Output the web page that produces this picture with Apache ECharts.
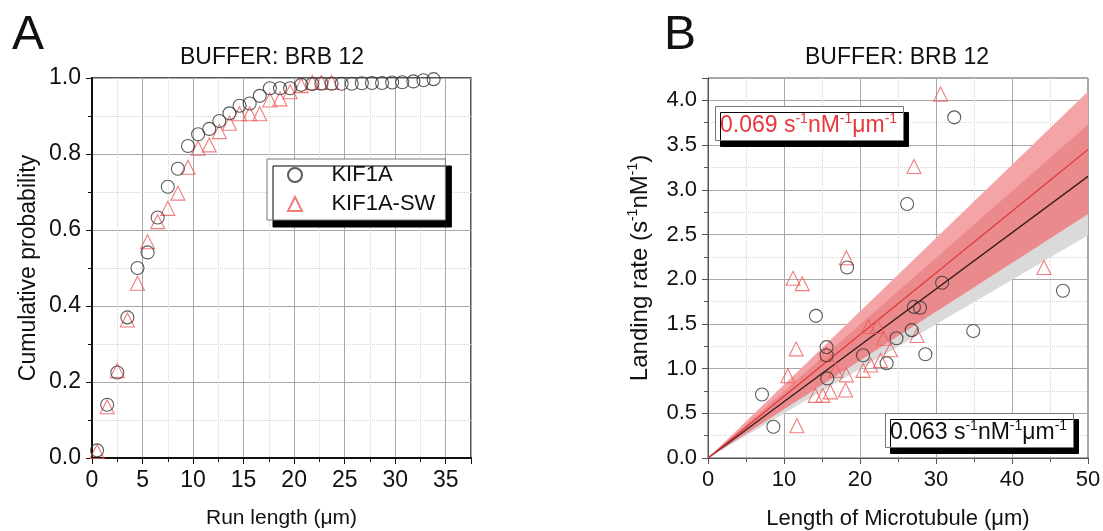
<!DOCTYPE html>
<html>
<head>
<meta charset="utf-8">
<script src="https://cdn.jsdelivr.net/npm/echarts@6/dist/echarts.min.js"></script>
<style>
  html, body { margin: 0; background: #fff; }
  #chart { width: 1103px; height: 531px; }
</style>
</head>
<body>
<div id="chart"></div>
<script>
// ---- panel A: cumulative run length ----
const runLengthBins = [0.5, 1.5, 2.5, 3.5, 4.5, 5.5, 6.5, 7.5, 8.5, 9.5, 10.5, 11.6, 12.6, 13.6, 14.6, 15.6, 16.6,
  17.6, 18.6, 19.6, 20.7, 21.8, 22.7, 23.7, 24.7, 25.7, 26.7, 27.7, 28.7, 29.7, 30.7, 31.8, 32.8, 33.8];
const kif1aCum = [0.02, 0.14, 0.225, 0.37, 0.50, 0.541, 0.633, 0.714, 0.761, 0.821, 0.852, 0.866, 0.887, 0.907,
  0.927, 0.933, 0.953, 0.973, 0.973, 0.973, 0.982, 0.984, 0.985, 0.985, 0.985, 0.985, 0.986, 0.987, 0.987,
  0.988, 0.989, 0.991, 0.994, 0.997];
const kif1aSwCum = [0.017, 0.135, 0.23, 0.363, 0.46, 0.569, 0.622, 0.657, 0.697, 0.765, 0.815, 0.824, 0.859,
  0.881, 0.906, 0.906, 0.906, 0.942, 0.945, 0.964, 0.98, 0.988, 0.988, 0.988];

// ---- panel B: landing rate vs microtubule length ----
const kif1aMtLength = [7.1, 8.6, 14.2, 15.6, 15.6, 15.7, 18.3, 20.4, 23.5, 24.8, 26.2, 26.8, 27.1, 27.9, 28.6, 30.8, 32.4, 34.9, 46.7];
const kif1aLanding  = [0.71, 0.35, 1.59, 1.24, 1.15, 0.89, 2.13, 1.15, 1.06, 1.34, 2.84, 1.43, 1.69, 1.68, 1.16, 1.96, 3.81, 1.42, 1.87];
const kif1aSwMtLength = [10.5, 11.2, 11.6, 11.7, 12.4, 14.1, 15.1, 15.6, 16.1, 16.8, 18.1, 18.2, 18.2, 20.4, 21.1, 21.4,
  22.3, 22.7, 23.1, 24.0, 27.1, 27.5, 30.6, 44.2];
const kif1aSwLanding  = [0.92, 2.01, 1.22, 0.36, 1.95, 0.70, 0.70, 1.16, 0.74, 0.98, 0.76, 0.93, 2.24, 0.98, 1.47, 1.04,
  1.47, 1.09, 1.34, 1.21, 3.26, 1.37, 4.07, 2.13];

// linear fits through origin (slope) and their confidence bands (low/high slope)
const fitX = [0, 50];
const kif1aSlope = 0.063;
const kif1aSwSlope = 0.069;
const kif1aBand = [0.0498, 0.0746];
const kif1aSwBand = [0.0546, 0.082];

const FONT = 'Liberation Sans';
const RED = '#ee5b5b';
const DARK = '#333';

const chart = echarts.init(document.getElementById('chart'));

const line = (slope) => fitX.map(x => [x, slope * x]);

const supRich = (color, size) => ({
  n: { fontSize: size, lineHeight: size + 4, color, fontFamily: FONT, fontWeight: 'normal' },
  s: { fontSize: Math.round(size * 0.6), lineHeight: Math.round(size * 0.6), verticalAlign: 'top', color, fontFamily: FONT, fontWeight: 'normal' }
});

function axisCommon(color, width, labelSize, nameSize) {
  return {
    type: 'value',
    axisLine: { show: true, onZero: false, lineStyle: { color, width } },
    axisTick: { show: true, length: 6, lineStyle: { color, width: 1 } },
    minorTick: { show: true, splitNumber: 2, length: 4, lineStyle: { color } },
    splitLine: { show: true, lineStyle: { color: '#a8a8a8', width: 1 } },
    minorSplitLine: { show: true, lineStyle: { color: '#d6d6d6', type: 'dotted' } },
    axisLabel: { fontSize: labelSize, color: '#111', fontFamily: FONT, margin: 11, showMaxLabel: false },
    nameLocation: 'middle',
    nameTextStyle: { fontSize: nameSize, color: '#111', fontFamily: FONT }
  };
}

const xA = Object.assign(axisCommon('#111', 2, 23, 21), {
  gridIndex: 0, min: 0, max: 37.5, interval: 5, name: 'Run length (μm)', nameGap: 50
});
const yA = Object.assign(axisCommon('#111', 2, 23, 23), {
  gridIndex: 0, min: 0, max: 1, interval: 0.2, name: 'Cumulative probability', nameGap: 52
});
yA.axisLabel = Object.assign({}, yA.axisLabel, { formatter: v => v.toFixed(1), showMaxLabel: true });

const xB = Object.assign(axisCommon('#555', 1, 22, 22), {
  gridIndex: 1, min: 0, max: 50, interval: 10, name: 'Length of Microtubule (μm)', nameGap: 50
});
xB.axisLabel = Object.assign({}, xB.axisLabel, { showMaxLabel: true });
const yB = Object.assign(axisCommon('#555', 1, 22, 24), {
  gridIndex: 1, min: 0, max: 4.25, interval: 0.5, nameGap: 54,
  name: '{n|Landing rate (s}{s|-1}{n|nM}{s|-1}{n|)}'
});
yB.nameTextStyle = Object.assign({}, yB.nameTextStyle, { rich: supRich('#111', 24) });
yB.axisLabel = Object.assign({}, yB.axisLabel, { formatter: v => v.toFixed(1) });

const hollow = (color) => ({ color: 'rgba(0,0,0,0)', borderColor: color, borderWidth: 1.1 });

// confidence band drawn as a wedge from the origin between two slopes
const bandSeries = (band, fill) => ({
  type: 'custom', xAxisIndex: 1, yAxisIndex: 1, silent: true,
  data: [band],
  renderItem: (params, api) => {
    const lo = api.value(0), hi = api.value(1);
    const pts = [
      api.coord([fitX[0], lo * fitX[0]]),
      api.coord([fitX[1], hi * fitX[1]]),
      api.coord([fitX[1], lo * fitX[1]])
    ];
    return { type: 'polygon', shape: { points: pts }, style: { fill } };
  }
});
// where the two bands overlap
const overlapBand = [Math.max(kif1aBand[0], kif1aSwBand[0]), Math.min(kif1aBand[1], kif1aSwBand[1])];

const labelBox = {
  backgroundColor: '#fff', borderColor: '#777', borderWidth: 1,
  shadowColor: '#000', shadowOffsetX: 5, shadowOffsetY: 6, shadowBlur: 0
};
const bigLetter = { fontSize: 48, fontWeight: 'normal', color: '#111', fontFamily: FONT };
const panelTitle = { fontSize: 23, fontWeight: 'normal', color: '#111', fontFamily: FONT };

const option = {
  animation: false,
  textStyle: { fontFamily: FONT },
  title: [
    { text: 'A', left: 12, top: 12, padding: 0, textStyle: bigLetter },
    { text: 'B', left: 664, top: 12, padding: 0, textStyle: bigLetter },
    { text: 'BUFFER: BRB 12', left: 272, top: 46, padding: 0, textAlign: 'center', textStyle: panelTitle },
    { text: 'BUFFER: BRB 12', left: 897, top: 46, padding: 0, textAlign: 'center', textStyle: panelTitle },
    Object.assign({ text: '{n|0.069 s}{s|-1}{n|nM}{s|-1}{n|μm}{s|-1}', left: 715, top: 106, padding: [6, 7, 4, 5],
      textStyle: { rich: supRich('#e8383d', 23) } }, labelBox),
    Object.assign({ text: '{n|0.063 s}{s|-1}{n|nM}{s|-1}{n|μm}{s|-1}', left: 885, top: 413, padding: [6, 7, 4, 5],
      textStyle: { rich: supRich('#111', 23) } }, labelBox)
  ],
  legend: {
    data: ['KIF1A', 'KIF1A-SW'],
    orient: 'vertical',
    left: 267, top: 159,
    padding: [5, 10, 5, 20],
    itemGap: 7,
    itemWidth: 14, itemHeight: 14,
    backgroundColor: '#fff', borderColor: '#777', borderWidth: 1,
    shadowColor: '#000', shadowOffsetX: 6, shadowOffsetY: 7, shadowBlur: 0,
    formatter: name => '    ' + name,
    textStyle: { fontSize: 22, lineHeight: 22, color: '#111', fontFamily: FONT }
  },
  grid: [
    { left: 92, top: 78, width: 379, height: 380, outerBoundsMode: 'none', show: true,
      borderColor: '#222', borderWidth: 1.5, backgroundColor: 'transparent' },
    { left: 708, top: 78, width: 380, height: 380, outerBoundsMode: 'none', show: true,
      borderColor: '#555', borderWidth: 1, backgroundColor: 'transparent' }
  ],
  xAxis: [xA, xB],
  yAxis: [yA, yB],
  series: [
    { name: 'KIF1A', type: 'scatter', xAxisIndex: 0, yAxisIndex: 0, symbol: 'circle', symbolSize: 13,
      itemStyle: hollow(DARK), data: runLengthBins.map((x, i) => [x, kif1aCum[i]]), z: 5 },
    { name: 'KIF1A-SW', type: 'scatter', xAxisIndex: 0, yAxisIndex: 0, symbol: 'triangle', symbolSize: 14,
      itemStyle: hollow(RED), data: kif1aSwCum.map((y, i) => [runLengthBins[i], y]), z: 4 },

    bandSeries(kif1aBand, '#dadada'),
    bandSeries(kif1aSwBand, '#f4a4a6'),
    bandSeries(overlapBand, '#eb8a8d'),
    { type: 'line', xAxisIndex: 1, yAxisIndex: 1, symbol: 'none', silent: true,
      lineStyle: { color: '#3a1c1c', width: 1.3 }, data: line(kif1aSlope) },
    { type: 'line', xAxisIndex: 1, yAxisIndex: 1, symbol: 'none', silent: true,
      lineStyle: { color: '#e23a3a', width: 1.3 }, data: line(kif1aSwSlope) },

    { name: 'KIF1A', type: 'scatter', xAxisIndex: 1, yAxisIndex: 1, symbol: 'circle', symbolSize: 13,
      itemStyle: hollow(DARK), data: kif1aMtLength.map((x, i) => [x, kif1aLanding[i]]), z: 5 },
    { name: 'KIF1A-SW', type: 'scatter', xAxisIndex: 1, yAxisIndex: 1, symbol: 'triangle', symbolSize: 14,
      itemStyle: hollow(RED), data: kif1aSwMtLength.map((x, i) => [x, kif1aSwLanding[i]]), z: 4 }
  ]
};

chart.setOption(option);
window.addEventListener('resize', () => chart.resize());
</script>
</body>
</html>
